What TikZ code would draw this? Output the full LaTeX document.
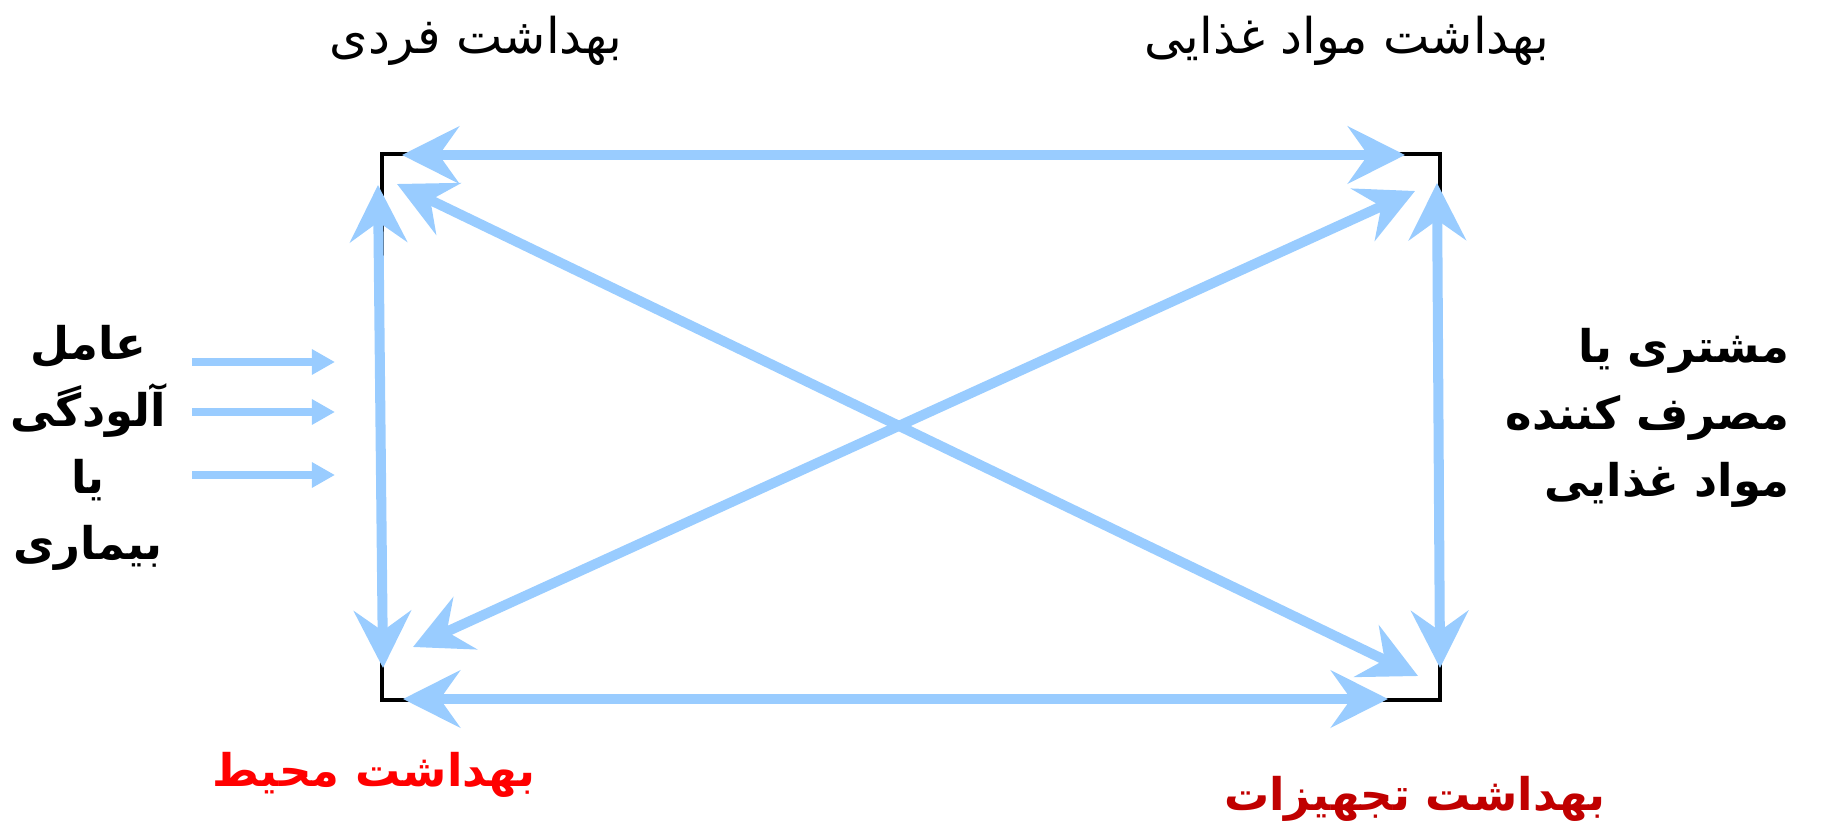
\documentclass[tikz,border=0pt]{standalone}
\usepackage{fontspec}
\usetikzlibrary{arrows.meta}
\newfontfamily\farsi[Script=Arabic]{DejaVu Sans}
\TeXXeTstate=1
\definecolor{arrowblue}{RGB}{153,204,255}
\definecolor{darkred}{RGB}{192,0,0}
\newcommand{\rtl}[1]{\hbox{\beginR #1\endR}}

\begin{document}
\begin{tikzpicture}[
  x=0.01cm, y=-0.01cm,
  every node/.style={inner sep=0pt, font=\farsi\fontsize{14}{17}\selectfont},
  boldtext/.style={font=\farsi\bfseries\fontsize{12.8}{19}\selectfont, align=center},
  duo/.style={draw=arrowblue, line width=2.85pt, >={Stealth[length=5.7mm, width=5.7mm, inset=2mm]}, <->},
  feed/.style={draw=arrowblue, line width=2pt, -{Triangle[length=2.3mm, width=2.4mm]}}
]
  \useasboundingbox (0,0) rectangle (1834,828);

  % frame
  \draw[line width=1.1pt] (382,154) rectangle (1440,700);

  % corner points
  \coordinate (topL) at (402,155);
  \coordinate (topR) at (1405,155);
  \coordinate (botL) at (403,699);
  \coordinate (botR) at (1388,699);
  \coordinate (leftT) at (378,185);
  \coordinate (leftB) at (383,668);
  \coordinate (rightT) at (1437,183);
  \coordinate (rightB) at (1440,668);
  \coordinate (crossTL) at (397,184);
  \coordinate (crossBR) at (1418,676);
  \coordinate (crossTR) at (1415,191);
  \coordinate (crossBL) at (413,647);

  \draw[duo] (topL) -- (topR);
  \draw[duo] (botL) -- (botR);
  \draw[duo] (leftT) -- (leftB);
  \draw[duo] (rightT) -- (rightB);
  \draw[duo] (crossTL) -- (crossBR);
  \draw[duo] (crossTR) -- (crossBL);

  % labels
  \node (fardi) at (476,41) {\rtl{بهداشت فردی}};
  \node (ghaza) at (1347,41) {\rtl{بهداشت مواد غذایی}};
  \node (amel) [boldtext, align=center] at (88,448) {\rtl{عامل}\\ \rtl{آلودگی}\\ \rtl{یا}\\ \rtl{بیماری}};
  \node (moshtari) [boldtext, align=right, anchor=east] at (1790,418) {\rtl{مشتری  یا}\\ \rtl{مصرف کننده}\\ \rtl{مواد غذایی}};
  \node (mohit) [boldtext, text=red] at (374,775) {\rtl{بهداشت محیط}};
  \node (tajhizat) [boldtext, text=darkred] at (1415,799) {\rtl{بهداشت تجهیزات}};

  % incoming arrows
  \foreach \n/\y in {1/362, 2/412, 3/475} {
    \coordinate (in\n) at (192,\y);
    \coordinate (out\n) at (335,\y);
    \draw[feed] (in\n) -- (out\n);
  }
\end{tikzpicture}
\end{document}
